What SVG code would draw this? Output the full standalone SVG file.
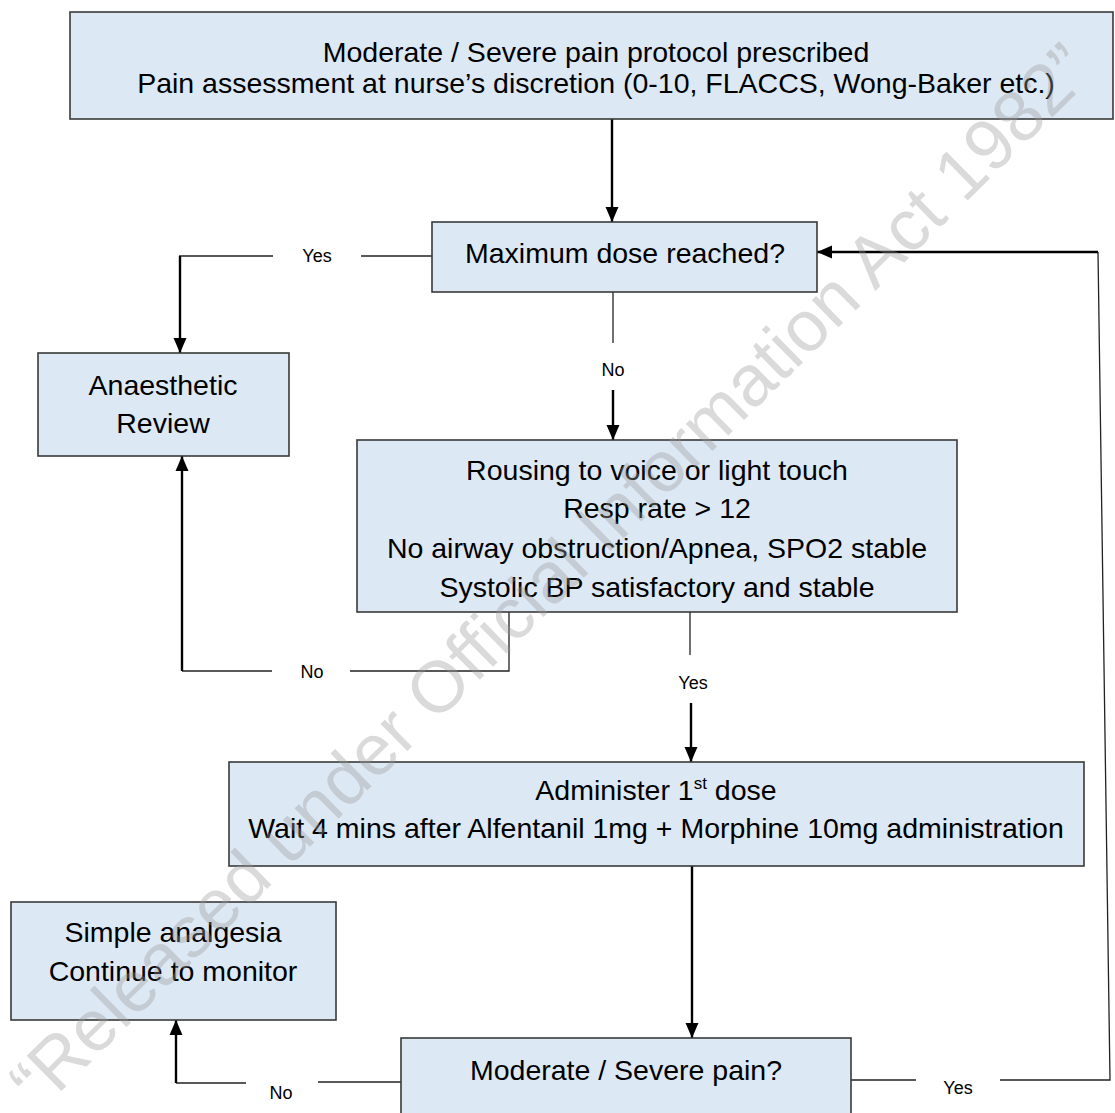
<svg xmlns="http://www.w3.org/2000/svg" width="1115" height="1113" viewBox="0 0 1115 1113">
<defs>
<marker id="ah" markerUnits="userSpaceOnUse" markerWidth="16" markerHeight="16" viewBox="0 0 16 16" refX="15" refY="8" orient="auto">
<path d="M0,1.5 L15,8 L0,14.5 Z" fill="#000"/>
</marker>
<style>
.box{fill:#dde8f5;stroke:#3a3a3a;stroke-width:1.6}
.t{font-family:"Liberation Sans",Arial,sans-serif;font-size:28.5px;fill:#000;text-anchor:middle}
.lbl{font-family:"Liberation Sans",Arial,sans-serif;font-size:18px;fill:#000;text-anchor:middle}
.thin{fill:none;stroke:#222;stroke-width:1.3}
.arr{fill:none;stroke:#000;stroke-width:2.4;marker-end:url(#ah)}
.wm{font-family:"Liberation Sans",Arial,sans-serif;font-size:72px;fill:#9a9a9a;opacity:0.36}
</style>
</defs>
<rect width="1115" height="1113" fill="#fff"/>

<g id="connectors">
<path class="arr" d="M612,119 V222"/>
<path class="thin" d="M432,256 H361"/>
<path class="thin" d="M273,256 H179"/>
<path class="arr" d="M180,256 V353"/>
<path class="thin" d="M613,292 V343"/>
<path class="arr" d="M613,390 V440"/>
<path class="thin" d="M509,612 V671 H350"/>
<path class="thin" d="M272,671 H182"/>
<path class="arr" d="M182,671 V456"/>
<path class="thin" d="M690,612 V655"/>
<path class="arr" d="M691,703 V762"/>
<path class="arr" d="M692,866 V1038"/>
<path class="thin" d="M401,1082 H318"/>
<path class="thin" d="M246,1083 H176"/>
<path class="arr" d="M176,1083 V1020"/>
<path class="thin" d="M851,1080 H916"/>
<path class="thin" d="M1000,1080 H1110 L1098,252"/>
<path class="arr" d="M1098,252 H817"/>
<text class="lbl" x="317" y="262">Yes</text>
<text class="lbl" x="613" y="376">No</text>
<text class="lbl" x="312" y="678">No</text>
<text class="lbl" x="693" y="689">Yes</text>
<text class="lbl" x="281" y="1099">No</text>
<text class="lbl" x="958" y="1094">Yes</text>
</g>

<g id="n-start">
<rect class="box" x="70" y="12" width="1043" height="107"/>
<text class="t" x="596" y="62">Moderate / Severe pain protocol prescribed</text>
<text class="t" x="596" y="93">Pain assessment at nurse’s discretion (0-10, FLACCS, Wong-Baker etc.)</text>
</g>

<g id="n-maxdose">
<rect class="box" x="432" y="222" width="385" height="70"/>
<text class="t" x="625" y="263">Maximum dose reached?</text>
</g>

<g id="n-anaesthetic">
<rect class="box" x="38" y="353" width="251" height="103"/>
<text class="t" x="163" y="395">Anaesthetic</text>
<text class="t" x="163" y="433">Review</text>
</g>

<g id="n-rousing">
<rect class="box" x="357" y="440" width="600" height="172"/>
<text class="t" x="657" y="480">Rousing to voice or light touch</text>
<text class="t" x="657" y="518">Resp rate &gt; 12</text>
<text class="t" x="657" y="558">No airway obstruction/Apnea, SPO2 stable</text>
<text class="t" x="657" y="597">Systolic BP satisfactory and stable</text>
</g>

<g id="n-administer">
<rect class="box" x="229" y="762" width="855" height="104"/>
<text class="t" x="656" y="800">Administer 1<tspan font-size="17" dy="-11">st</tspan><tspan dy="11"> dose</tspan></text>
<text class="t" x="656" y="838">Wait 4 mins after Alfentanil 1mg + Morphine 10mg administration</text>
</g>

<g id="n-simple">
<rect class="box" x="11" y="902" width="325" height="118"/>
<text class="t" x="173" y="942">Simple analgesia</text>
<text class="t" x="173" y="981">Continue to monitor</text>
</g>

<g id="n-pain">
<rect class="box" x="401" y="1038" width="450" height="90"/>
<text class="t" x="626" y="1080">Moderate / Severe pain?</text>
</g>

<text class="wm" transform="translate(40,1112) rotate(-44.5)" textLength="1480" lengthAdjust="spacingAndGlyphs">“Released under Official Information Act 1982”</text>
</svg>
